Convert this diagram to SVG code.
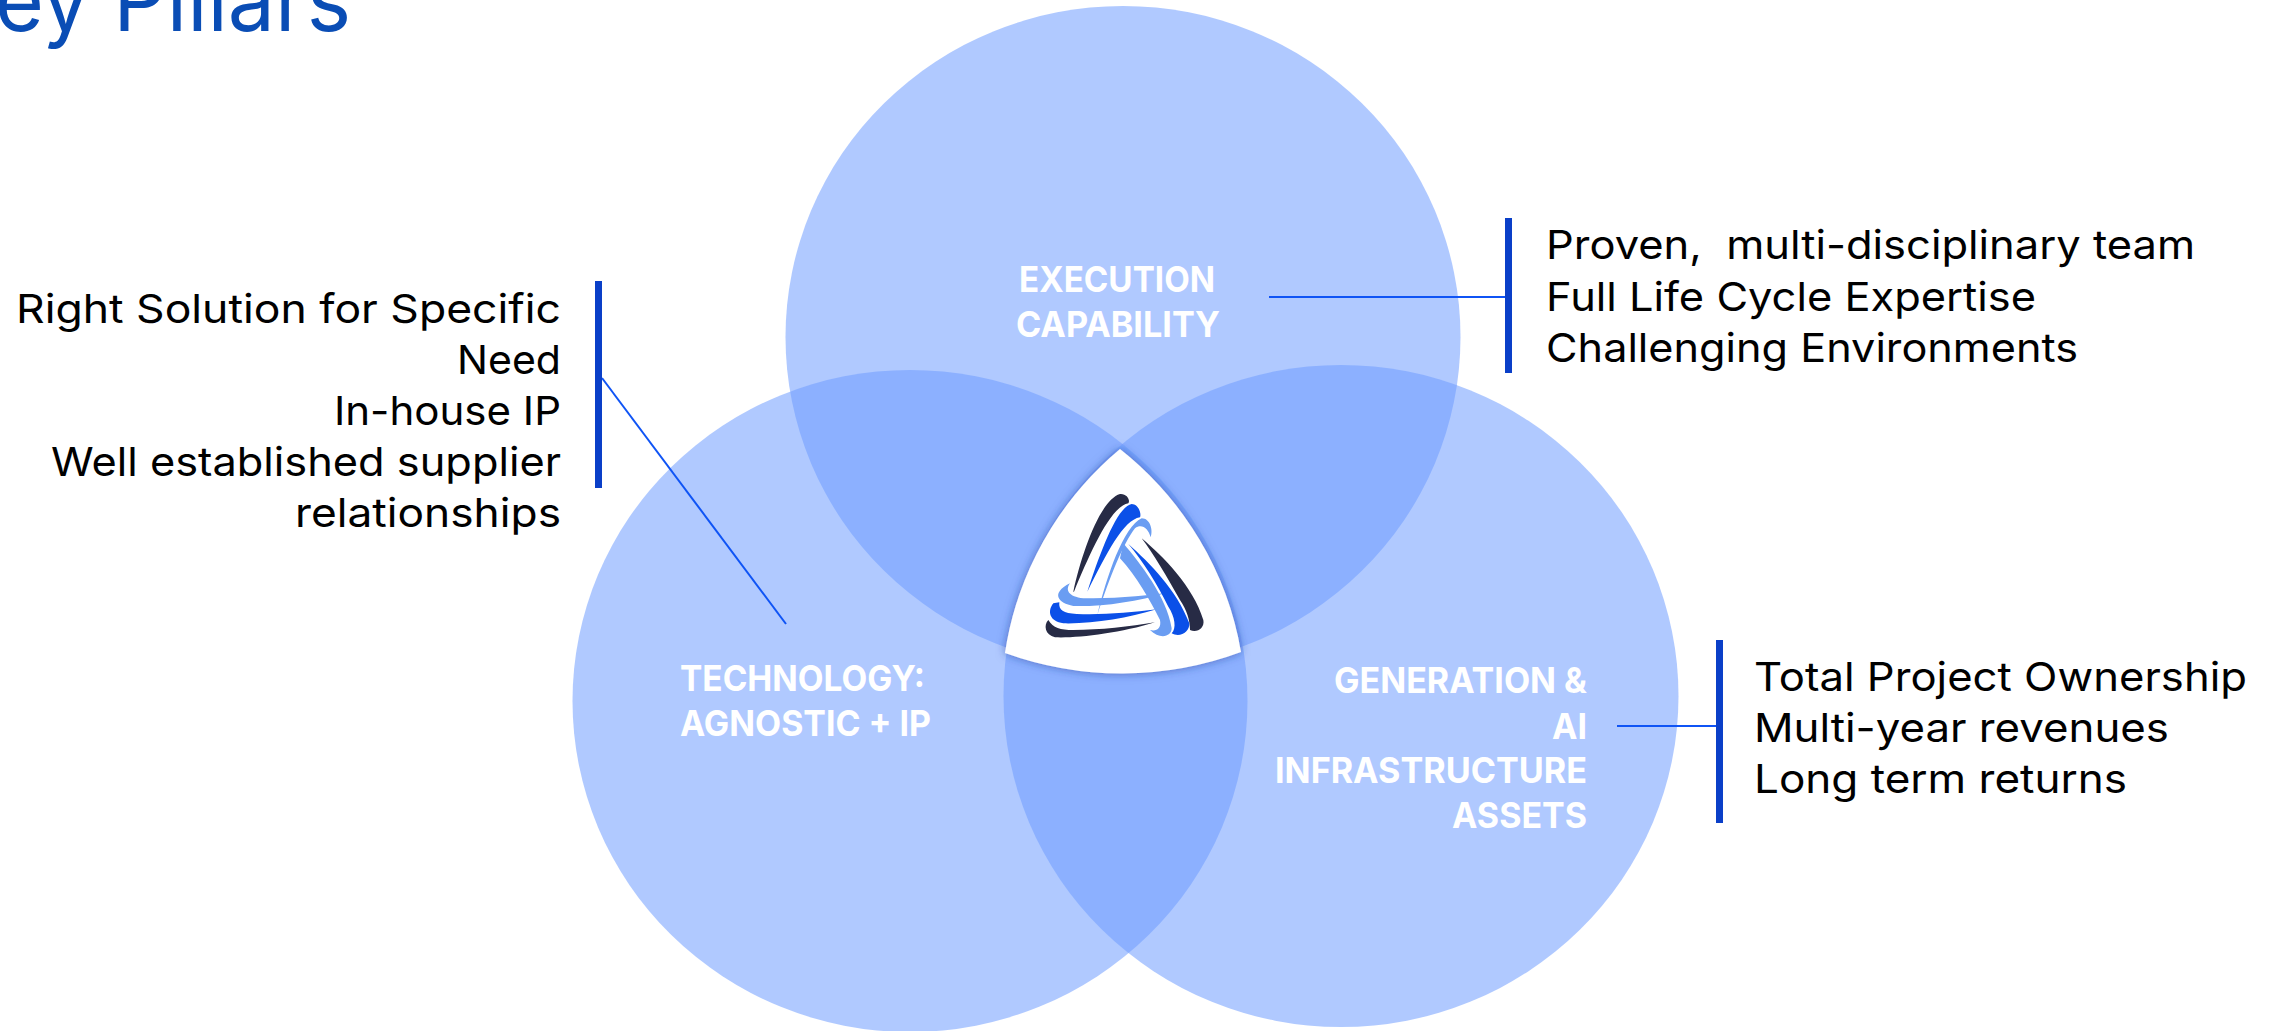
<svg xmlns="http://www.w3.org/2000/svg" width="2277" height="1031" viewBox="0 0 2277 1031">
<defs>
<style>
.c{fill:#6E9CFF;fill-opacity:.544}
.t{font-family:Inter,"Liberation Sans",sans-serif;font-size:40px;fill:#000}
.r{text-anchor:end}
.n{font-family:Inter,"Liberation Sans",sans-serif;font-size:36px;font-weight:700;fill:#fff}
.b{fill:#0A3FC8}
.l{stroke:#0F54F5;stroke-width:2;fill:none}
</style>
<filter id="sh" x="-20%" y="-20%" width="140%" height="140%"><feDropShadow dx="0" dy="0" stdDeviation="5" flood-color="#1c3d9a" flood-opacity=".6"/></filter>
</defs>
<rect width="2277" height="1031" fill="#fff"/>
<text x="351" y="31" text-anchor="end" textLength="356" lengthAdjust="spacingAndGlyphs" style="font-family:Inter,'Liberation Sans',sans-serif;font-size:86px;fill:#0A4DB5">ey Pillars</text>
<g id="circles">
<ellipse id="circle-execution" class="c" cx="1123" cy="337" rx="337.5" ry="331"/>
<ellipse id="circle-technology" class="c" cx="910" cy="701" rx="337.5" ry="331"/>
<ellipse id="circle-generation" class="c" cx="1341" cy="696" rx="337.5" ry="331"/>
</g>
<g id="connectors">
<line class="l" x1="1269" y1="297" x2="1507" y2="297"/>
<line class="l" x1="602" y1="378" x2="786" y2="624"/>
<line class="l" x1="1617" y1="726" x2="1717" y2="726"/>
</g>
<g id="node-center">
<path d="M1120 449A337 331 0 0 1 1241 652A337 331 0 0 1 1005 653A337 331 0 0 1 1120 449Z" fill="#fff" filter="url(#sh)"/>
<g transform="translate(960 420) scale(.33333)">
<path fill="#272B45" d="M340 515C365 400 420 240 480 222C500 220 512 240 505 250C450 260 390 400 342 515Z"/>
<path fill="#0B50E8" d="M382 515C420 400 470 260 515 252C535 252 545 280 540 292C490 300 440 400 382 515Z"/>
<path fill="#6A9DF2" d="M412 585C440 470 490 320 545 295C570 295 580 330 572 352C565 325 545 310 525 325C490 370 450 470 412 585Z"/>
<path fill="#272B45" d="M585 607C480 640 350 655 285 652C255 645 250 615 265 600C280 625 300 630 340 630C420 630 510 620 585 607Z"/>
<path fill="#0B50E8" d="M590 568C500 595 400 612 310 610C270 605 260 575 280 550L298 547C295 570 310 580 350 582C430 585 510 578 590 568Z"/>
<path fill="#6A9DF2" d="M620 518C530 545 430 560 340 558C295 550 270 520 330 490C315 510 325 530 370 535C450 535 540 530 620 518Z"/>
<path fill="#272B45" d="M545 355C610 410 700 500 730 600C735 625 710 640 690 630C690 600 680 570 660 540C620 470 580 400 545 355Z"/>
<path fill="#0B50E8" d="M505 372C570 430 650 510 688 610C690 635 660 655 635 640C650 625 645 590 625 560C590 490 550 425 505 372Z"/>
<path fill="#6A9DF2" d="M490 370C540 430 620 530 635 625C635 650 600 660 570 630C590 635 605 625 600 600C570 540 530 470 480 415Z"/>
</g>
</g>
<g id="node-execution">
<text class="n" x="1019" y="292" textLength="196" lengthAdjust="spacingAndGlyphs">EXECUTION</text>
<text class="n" x="1016" y="337" textLength="204" lengthAdjust="spacingAndGlyphs">CAPABILITY</text>
<rect class="b" x="1505" y="218" width="7" height="155"/>
<text class="t" x="1546" y="259" textLength="649" lengthAdjust="spacingAndGlyphs" xml:space="preserve">Proven,  multi-disciplinary team</text>
<text class="t" x="1546" y="311" textLength="490" lengthAdjust="spacingAndGlyphs">Full Life Cycle Expertise</text>
<text class="t" x="1546" y="362" textLength="532" lengthAdjust="spacingAndGlyphs">Challenging Environments</text>
</g>
<g id="node-technology">
<text class="n" x="680" y="691" textLength="245" lengthAdjust="spacingAndGlyphs">TECHNOLOGY:</text>
<text class="n" x="680" y="736" textLength="251" lengthAdjust="spacingAndGlyphs">AGNOSTIC + IP</text>
<rect class="b" x="595" y="281" width="7" height="207"/>
<text class="t r" x="561" y="323" textLength="545" lengthAdjust="spacingAndGlyphs">Right Solution for Specific</text>
<text class="t r" x="561" y="374" textLength="104" lengthAdjust="spacingAndGlyphs">Need</text>
<text class="t r" x="561" y="425" textLength="227" lengthAdjust="spacingAndGlyphs">In-house IP</text>
<text class="t r" x="561" y="476" textLength="510" lengthAdjust="spacingAndGlyphs">Well established supplier</text>
<text class="t r" x="561" y="527" textLength="266" lengthAdjust="spacingAndGlyphs">relationships</text>
</g>
<g id="node-generation">
<text class="n r" x="1587" y="693" textLength="253" lengthAdjust="spacingAndGlyphs">GENERATION &amp;</text>
<text class="n r" x="1587" y="739" textLength="35" lengthAdjust="spacingAndGlyphs">AI</text>
<text class="n r" x="1587" y="783" textLength="312" lengthAdjust="spacingAndGlyphs">INFRASTRUCTURE</text>
<text class="n r" x="1587" y="828" textLength="135" lengthAdjust="spacingAndGlyphs">ASSETS</text>
<rect class="b" x="1716" y="640" width="7" height="183"/>
<text class="t" x="1754" y="691" textLength="493" lengthAdjust="spacingAndGlyphs">Total Project Ownership</text>
<text class="t" x="1754" y="742" textLength="415" lengthAdjust="spacingAndGlyphs">Multi-year revenues</text>
<text class="t" x="1754" y="793" textLength="373" lengthAdjust="spacingAndGlyphs">Long term returns</text>
</g>
</svg>
